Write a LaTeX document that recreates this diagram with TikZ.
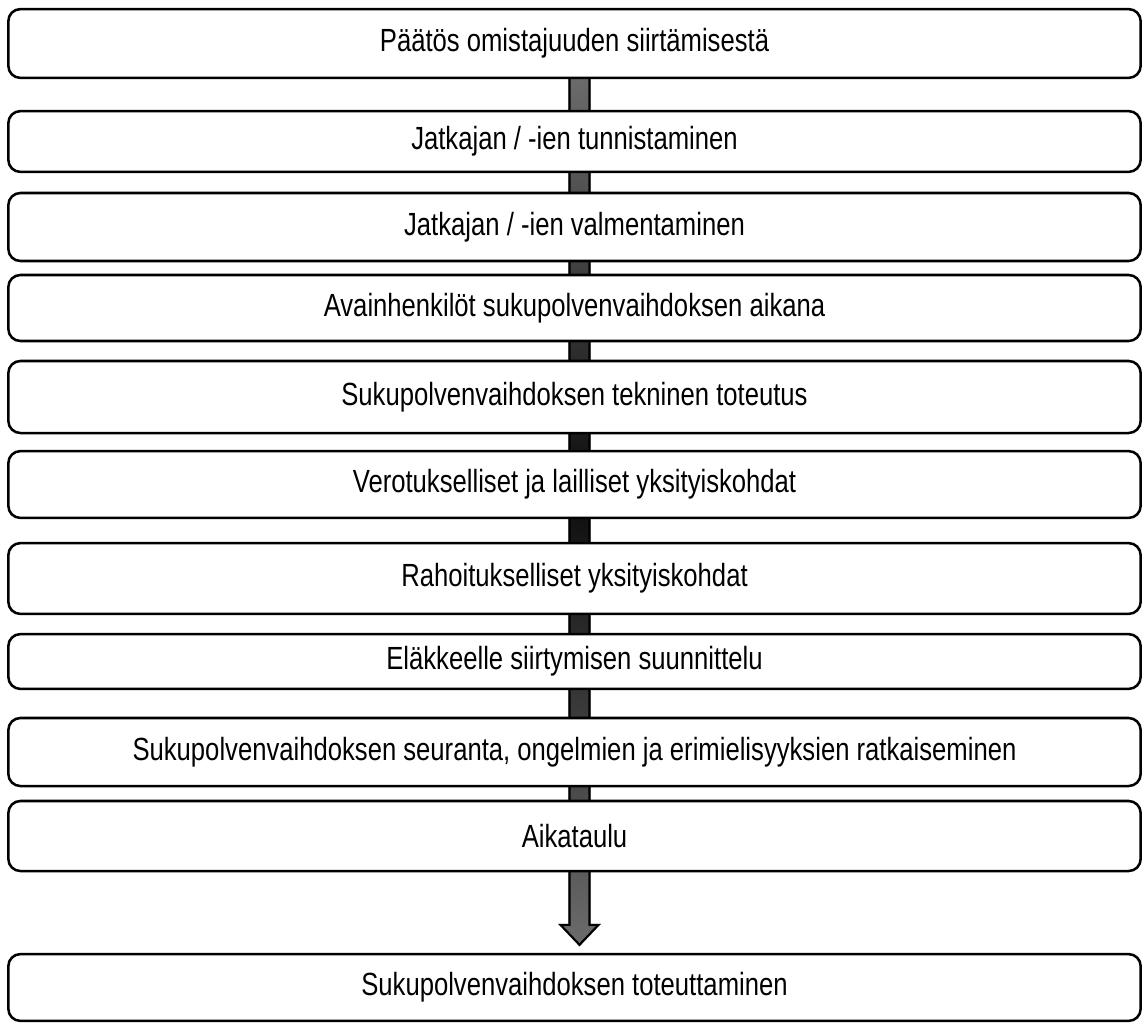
\documentclass[tikz,border=0pt]{standalone}
\usepackage{fontspec}
\setmainfont{Liberation Sans}[FakeStretch=0.8]
\usetikzlibrary{calc,backgrounds}

\tikzset{
  vaihe/.style={draw=black, line width=1.8pt, rounded corners=0.3cm, fill=white,
    minimum width=28.3cm, inner sep=0pt, font=\fontsize{22.8}{26}\selectfont},
  pilari/.style={draw=black, line width=1.5pt, top color=black!55, bottom color=black!58, middle color=black!95},
  varjo/.style={fill=black!40, draw=black!40, line width=1.5pt}
}

\begin{document}
\begin{tikzpicture}[x=0.025cm, y=-0.025cm]
\useasboundingbox (0,0) rectangle (1148,1026);
\node[vaihe, minimum height=1.72cm] (b1) at (574.5,43.5) {Päätös omistajuuden siirtämisestä};
\node[vaihe, minimum height=1.52cm] (b2) at (574.5,141.5) {Jatkajan / -ien tunnistaminen};
\node[vaihe, minimum height=1.70cm] (b3) at (574.5,227) {Jatkajan / -ien valmentaminen};
\node[vaihe, minimum height=1.65cm] (b4) at (574.5,308) {Avainhenkilöt sukupolvenvaihdoksen aikana};
\node[vaihe, minimum height=1.80cm] (b5) at (574.5,397) {Sukupolvenvaihdoksen tekninen toteutus};
\node[vaihe, minimum height=1.67cm] (b6) at (574.5,484.5) {Verotukselliset ja lailliset yksityiskohdat};
\node[vaihe, minimum height=1.77cm] (b7) at (574.5,578.5) {Rahoitukselliset yksityiskohdat};
\node[vaihe, minimum height=1.37cm] (b8) at (574.5,661.5) {Eläkkeelle siirtymisen suunnittelu};
\node[vaihe, minimum height=1.70cm] (b9) at (574.5,752) {Sukupolvenvaihdoksen seuranta, ongelmien ja erimielisyyksien ratkaiseminen};
\node[vaihe, minimum height=1.75cm] (b10) at (574.5,836) {Aikataulu};
\node[vaihe, minimum height=1.67cm] (b11) at (574.5,987.5) {Sukupolvenvaihdoksen toteuttaminen};

% nuoli laatikoiden takana
\coordinate (alku) at ($(b1.center)+(5,0)$);
\coordinate (karki) at ($(b11.north)+(5,-8)$);
\begin{scope}[on background layer]
\fill[varjo, shift={(4,4)}] ($(alku)+(-10,0)$) -- ($(karki)+(-10,-20)$) -- ($(karki)+(-19,-20)$) -- (karki)
  -- ($(karki)+(19,-20)$) -- ($(karki)+(10,-20)$) -- ($(alku)+(10,0)$) -- cycle;
\shadedraw[pilari] ($(alku)+(-10,0)$) -- ($(karki)+(-10,-20)$) -- ($(karki)+(-19,-20)$) -- (karki)
  -- ($(karki)+(19,-20)$) -- ($(karki)+(10,-20)$) -- ($(alku)+(10,0)$) -- cycle;
\end{scope}
\end{tikzpicture}
\end{document}
